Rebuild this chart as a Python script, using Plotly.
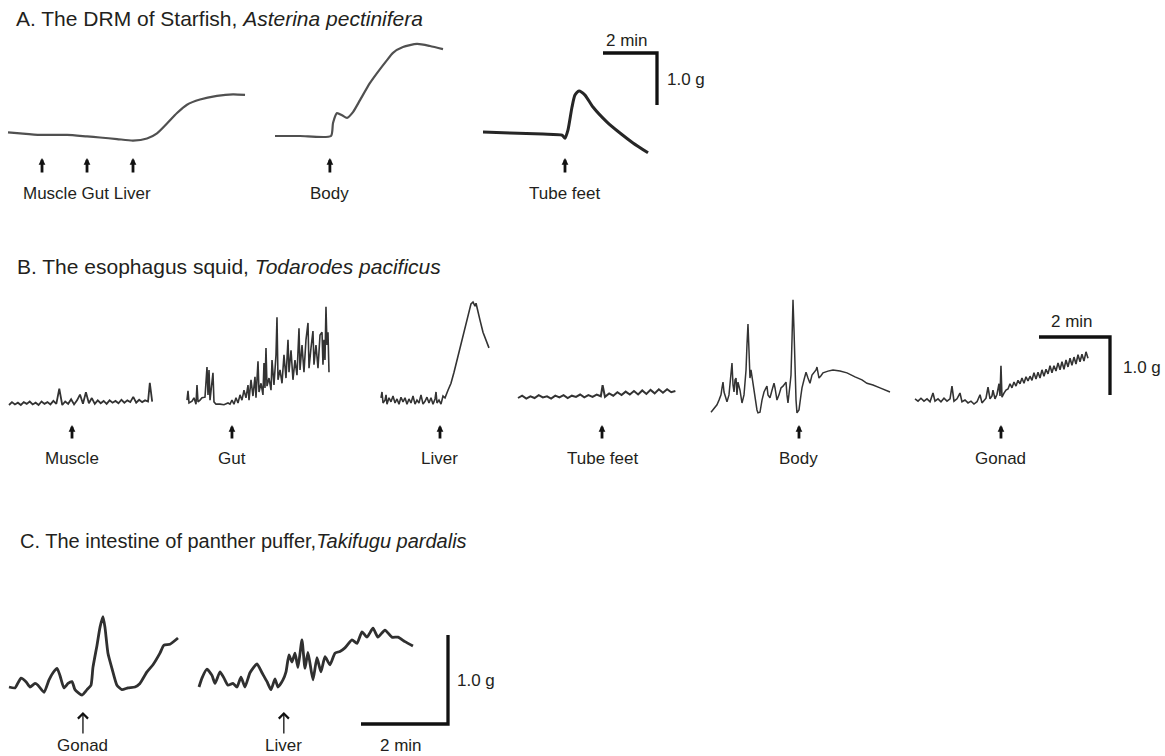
import plotly.graph_objects as go

W, H = 1165, 756
FONT = "Liberation Sans, Arial, Helvetica, sans-serif"
INK = "#231f20"

# ---------------- DATA: time (s) and tension (g, relative to resting level) ----------------
# Panel A - DRM of starfish
A_MGL_T = [0, 26.7, 71.1, 131.1, 175.6, 204.4, 242.2, 277.8, 308.9, 331.1, 353.3, 375.6, 397.8, 426.7, 464.4, 500.0, 526.7]
A_MGL_G = [0.00, -0.02, -0.05, -0.05, -0.08, -0.10, -0.13, -0.16, -0.12, -0.02, 0.17, 0.37, 0.53, 0.63, 0.70, 0.73, 0.72]
A_MGL_STIM = [75.6, 175.6, 277.8]
A_MGL_LABELS = [None, "Muscle Gut Liver", None]

A_BODY_T = [0, 55.6, 124.4, 128.9, 137.8, 148.9, 160.0, 173.3, 188.9, 211.1, 226.7, 248.9, 262.2, 284.4, 315.6, 344.4, 373.3]
A_BODY_G = [0.00, 0.00, 0.00, 0.25, 0.44, 0.40, 0.35, 0.46, 0.69, 1.02, 1.21, 1.46, 1.60, 1.71, 1.77, 1.73, 1.67]
A_BODY_STIM = [122.0]
A_BODY_LABELS = ["Body"]

A_TF_T = [0, 60.0, 133.3, 175.6, 182.2, 188.9, 197.8, 204.4, 213.3, 226.7, 244.4, 275.6, 304.4, 333.3, 366.7]
A_TF_G = [0.00, -0.02, -0.04, -0.06, -0.12, 0.04, 0.48, 0.71, 0.79, 0.71, 0.48, 0.19, -0.02, -0.21, -0.40]
A_TF_STIM = [182.2]
A_TF_LABELS = ["Tube feet"]

# Panel B - esophagus of squid
B_MUS_T = [0, 5, 10, 15, 20, 25, 30, 35, 40, 45, 50, 55, 60, 65, 70, 75, 80, 85, 90, 95,
           100, 105, 110, 115, 120, 125, 130, 135, 140, 145, 150, 155, 160, 165, 170, 175, 180, 185, 190, 195,
           200, 205, 210, 215, 220, 225, 230, 235, 238, 242]
B_MUS_G = [0.00, 0.05, 0.01, 0.04, 0.00, 0.05, 0.02, 0.06, 0.01, 0.04, 0.00, 0.06, 0.02, 0.05, 0.01, 0.07, 0.02, 0.28, 0.00, 0.06,
           0.02, 0.10, 0.01, 0.08, 0.18, 0.02, 0.22, 0.03, 0.12, 0.02, 0.08, 0.03, 0.07, 0.02, 0.08, 0.04, 0.07, 0.03, 0.09, 0.04,
           0.08, 0.05, 0.14, 0.04, 0.09, 0.05, 0.08, 0.06, 0.38, 0.06]
B_MUS_STIM = [106.5]
B_MUS_LABELS = ["Muscle"]

B_GUT_T = [0, 1.7, 3.4, 8.5, 11.8, 15.2, 16.9, 18.6, 22.0, 25.4, 30.4, 33.8, 35.5, 37.2, 38.9, 42.3, 43.9, 45.6, 49.0, 55.8,
           62.5, 69.3, 72.7, 76.0, 79.4, 82.8, 86.2, 89.6, 92.9, 96.3, 99.7, 103.1, 104.8, 108.2, 111.5, 114.9, 116.6, 120.0, 121.7, 125.1,
           128.4, 130.1, 131.8, 133.5, 135.2, 138.6, 142.0, 143.7, 147.0, 150.4, 152.1, 153.8, 157.2, 160.6, 163.9, 167.3, 170.7, 172.4, 175.8, 179.1,
           182.5, 185.9, 189.3, 191.0, 194.4, 197.7, 201.1, 204.5, 206.2, 209.6, 212.9, 214.6, 218.0, 221.4, 224.8, 228.2, 229.8, 231.5, 233.2, 234.9,
           236.6, 238.3, 240.0]
B_GUT_G = [0.05, 0.21, 0.00, 0.03, 0.09, -0.02, 0.31, 0.02, 0.05, 0.09, 0.10, 0.62, 0.14, 0.57, 0.05, 0.31, 0.52, 0.02, -0.02, -0.02,
           -0.03, 0.00, -0.02, 0.05, -0.02, 0.09, 0.00, 0.14, 0.05, 0.22, 0.09, 0.31, 0.05, 0.40, 0.12, 0.45, 0.09, 0.72, 0.19, 0.34,
           0.14, 0.69, 0.26, 0.95, 0.29, 0.43, 0.22, 0.74, 0.31, 0.83, 1.48, 0.40, 0.57, 0.34, 0.83, 0.43, 1.09, 0.53, 0.91, 0.40,
           0.74, 0.48, 1.29, 0.57, 1.00, 0.53, 1.09, 1.38, 0.60, 0.95, 1.24, 0.66, 1.00, 0.60, 1.17, 1.22, 0.66, 1.09, 0.74, 1.66,
           1.00, 1.22, 0.53]
B_GUT_STIM = [76.0]
B_GUT_LABELS = ["Gut"]

B_LIV_T = [0, 1.7, 3.4, 6.8, 8.5, 10.1, 13.5, 16.9, 20.3, 23.7, 27.0, 30.4, 33.8, 37.2, 40.6, 43.9, 47.3, 50.7, 54.1, 57.5,
           60.8, 64.2, 67.6, 71.0, 74.4, 77.7, 81.1, 84.5, 87.9, 91.3, 93.0, 94.6, 98.0, 101.4, 104.8, 108.2, 113.2, 118.3, 123.4, 128.4,
           133.5, 138.6, 143.7, 148.7, 152.1, 155.5, 158.9, 160.6, 163.9, 167.3, 172.4, 177.5, 182.5]
B_LIV_G = [0.09, 0.19, 0.00, 0.05, 0.14, -0.02, 0.09, 0.02, 0.12, 0.00, 0.07, -0.02, 0.10, 0.02, 0.09, -0.02, 0.07, 0.00, 0.12, -0.02,
           0.05, 0.00, 0.14, -0.02, 0.03, 0.10, 0.00, 0.09, -0.02, 0.07, 0.19, 0.00, 0.05, -0.02, 0.12, 0.09, 0.22, 0.34, 0.53, 0.74,
           0.98, 1.19, 1.40, 1.60, 1.71, 1.74, 1.67, 1.72, 1.60, 1.43, 1.22, 1.09, 0.95]
B_LIV_STIM = [99.7]
B_LIV_LABELS = ["Liver"]

B_TF_T = [0, 7, 14, 21, 28, 35, 42, 49, 56, 63, 70, 77, 84, 91, 98, 105, 112, 119, 126, 133,
          140, 143, 147, 154, 161, 168, 175, 182, 189, 196, 203, 210, 217, 224, 231, 238, 245, 252, 259, 266]
B_TF_G = [0.00, 0.04, -0.01, 0.03, 0.00, 0.05, 0.01, 0.03, -0.01, 0.04, 0.01, 0.05, 0.00, 0.04, 0.02, 0.06, 0.01, 0.05, 0.02, 0.06,
          0.03, 0.22, 0.02, 0.08, 0.04, 0.10, 0.05, 0.11, 0.06, 0.12, 0.06, 0.13, 0.07, 0.14, 0.08, 0.15, 0.09, 0.15, 0.10, 0.12]
B_TF_STIM = [142.0]
B_TF_LABELS = ["Tube feet"]

B_BODY_T = [0, 5.1, 10.1, 13.5, 16.9, 18.6, 20.3, 22.0, 25.4, 27.0, 30.4, 33.8, 35.5, 37.2, 38.9, 40.6, 42.3, 43.9, 45.6, 49.0,
            52.4, 55.8, 59.2, 60.8, 62.5, 64.2, 65.9, 67.6, 71.0, 74.4, 77.7, 79.4, 82.8, 86.2, 89.6, 93.0, 94.6, 96.3, 99.7, 103.1,
            106.5, 108.2, 111.5, 114.9, 118.3, 121.7, 125.1, 126.8, 128.4, 130.1, 133.5, 135.2, 136.9, 138.6, 140.3, 142.0, 143.7, 145.3, 148.7, 152.1,
            153.8, 157.2, 160.6, 163.9, 167.3, 170.7, 174.1, 177.5, 179.1, 180.8, 182.5, 185.9, 189.3, 197.7, 206.2, 218.0, 229.8, 243.4, 255.2, 263.6,
            273.8, 285.6, 294.1, 302.5]
B_BODY_G = [-0.16, -0.10, -0.03, 0.05, 0.14, 0.26, 0.36, 0.19, 0.05, 0.02, 0.14, 0.48, 0.69, 0.31, 0.19, 0.40, 0.43, 0.14, 0.36, 0.22,
            0.00, 0.14, 0.57, 1.00, 1.36, 0.91, 0.43, 0.57, 0.31, 0.14, -0.12, -0.17, -0.16, 0.05, 0.19, 0.26, 0.29, 0.14, 0.09, 0.22,
            0.34, 0.26, 0.05, 0.14, 0.26, 0.29, 0.33, 0.36, 0.14, 0.00, 0.31, 0.48, 1.09, 1.78, 1.26, 0.48, 0.05, -0.17, -0.12, 0.14,
            0.26, 0.40, 0.53, 0.43, 0.34, 0.48, 0.53, 0.57, 0.62, 0.53, 0.43, 0.47, 0.52, 0.55, 0.57, 0.55, 0.52, 0.45, 0.40, 0.34,
            0.31, 0.26, 0.22, 0.19]
B_BODY_STIM = [148.7]
B_BODY_LABELS = ["Body"]

B_GON_T = [0, 5.1, 10.1, 15.2, 20.3, 25.4, 30.4, 33.8, 38.9, 43.9, 49.0, 54.1, 59.2, 62.5, 65.9, 71.0, 76.0, 79.4, 84.5, 89.6,
           94.6, 99.7, 104.8, 109.9, 113.2, 116.6, 120.0, 123.4, 126.8, 130.1, 131.8, 135.2, 138.6, 142.0, 143.7, 145.3, 147.0, 150.4, 153.8, 157.2,
           160.6, 163.9, 167.3, 170.7, 174.1, 177.5, 180.8, 184.2, 187.6, 191.0, 194.4, 197.7, 201.1, 204.5, 207.9, 211.3, 214.6, 218.0, 221.4, 224.8,
           228.2, 231.5, 234.9, 238.3, 241.7, 245.1, 248.4, 251.8, 255.2, 258.6, 262.0, 265.3, 268.7, 272.1, 275.5, 278.9, 282.2, 285.6, 289.0, 292.4]
B_GON_G = [0.02, -0.02, 0.03, -0.02, 0.02, -0.03, 0.12, -0.02, 0.02, -0.03, 0.03, -0.02, 0.02, 0.24, -0.02, 0.02, 0.12, -0.03, 0.00, -0.05,
           -0.02, -0.07, -0.03, 0.09, -0.05, 0.00, 0.03, 0.22, 0.02, 0.07, 0.17, 0.02, 0.10, 0.28, 0.07, 0.59, 0.05, 0.12, 0.17, 0.19,
           0.28, 0.21, 0.31, 0.24, 0.34, 0.28, 0.38, 0.29, 0.40, 0.33, 0.41, 0.34, 0.47, 0.36, 0.48, 0.38, 0.52, 0.41, 0.53, 0.45,
           0.59, 0.47, 0.59, 0.50, 0.64, 0.52, 0.66, 0.53, 0.69, 0.57, 0.72, 0.60, 0.74, 0.62, 0.78, 0.66, 0.79, 0.67, 0.83, 0.72]
B_GON_STIM = [145.3]
B_GON_LABELS = ["Gonad"]

# Panel C - intestine of panther puffer
C_GON_T = [0, 8.3, 16.5, 23.4, 29.0, 35.9, 40.0, 48.3, 55.2, 60.7, 66.2, 70.3, 75.8, 81.4, 86.9, 91.0, 100.7, 107.6, 113.1, 115.8,
           121.4, 125.5, 129.6, 132.4, 136.5, 142.0, 148.9, 155.8, 164.1, 173.8, 180.6, 190.3, 198.6, 208.2, 213.7, 222.0, 233.1]
C_GON_G = [0.00, -0.01, 0.10, 0.06, 0.00, 0.04, 0.02, -0.06, 0.08, 0.16, 0.21, 0.13, -0.01, 0.04, 0.06, -0.03, -0.09, -0.03, 0.02, 0.22,
           0.47, 0.67, 0.79, 0.67, 0.38, 0.21, 0.02, -0.03, -0.01, 0.00, 0.04, 0.17, 0.25, 0.38, 0.47, 0.48, 0.55]
C_GON_STIM = [102.0]
C_GON_LABELS = ["Gonad"]

C_LIV_T = [0, 4.1, 11.0, 17.9, 22.1, 29.0, 34.5, 40.0, 46.9, 52.4, 57.9, 63.4, 70.3, 80.0, 86.9, 93.8, 99.3, 104.8, 108.9, 115.8,
           120.0, 124.1, 128.2, 132.4, 136.5, 142.0, 146.2, 150.3, 157.2, 162.7, 168.2, 173.8, 180.6, 187.5, 194.4, 201.3, 211.0, 217.9, 224.8, 231.7,
           240.0, 246.8, 256.5, 266.1, 274.4, 284.1, 295.1]
C_LIV_G = [0.00, 0.10, 0.20, 0.13, 0.04, 0.17, 0.10, 0.02, 0.04, 0.00, 0.11, 0.00, 0.16, 0.26, 0.16, 0.06, -0.03, 0.09, 0.00, 0.08,
           0.17, 0.36, 0.28, 0.38, 0.22, 0.53, 0.21, 0.39, 0.08, 0.33, 0.17, 0.34, 0.25, 0.38, 0.40, 0.44, 0.53, 0.49, 0.62, 0.56,
           0.66, 0.56, 0.64, 0.56, 0.56, 0.51, 0.46]
C_LIV_STIM = [117.0]
C_LIV_LABELS = ["Liver"]

# calibration bars
SCALE_BAR_S = 120      # 2 min
SCALE_BAR_G = 1.0      # 1.0 g
SCALE_TIME_LABEL = "2 min"
SCALE_FORCE_LABEL = "1.0 g"

TITLES = {
    "A": "A. The DRM of Starfish, <i>Asterina pectinifera</i>",
    "B": "B. The esophagus squid, <i>Todarodes pacificus</i>",
    "C": "C. The intestine of panther puffer,<i>Takifugu pardalis</i>",
}

# ---------------- LAYOUT (pixel placement & style) ----------------
PX_PER = {"A": (0.45, 52.0), "B": (71 / 120, 58.0), "C": (87 / 120, 89.0)}   # px per s, px per g
ARROW = {
    "A": dict(tip=158, tail=173, label_y=193, head=2, width=2.8, size=0.48),
    "B": dict(tip=425, tail=439, label_y=459, head=2, width=2.8, size=0.48),
    "C": dict(tip=712, tail=734, label_y=745, head=4, width=1.3, size=1.5),
}
TITLE_POS = {"A": (14, 18, 21), "B": (15, 266, 21), "C": (18, 541, 20)}

fig = go.Figure()
axes = {}
annotations = []
count = [0]


def new_axes(panel, px_x0, px_y0, t_vals, g_vals, pad=6):
    pxps, pxpg = PX_PER[panel]
    count[0] += 1
    n = count[0]
    lo = max(0.0, px_x0 + min(t_vals) * pxps - pad)
    hi = min(W, px_x0 + max(t_vals) * pxps + pad)
    top = max(0.0, px_y0 - max(g_vals) * pxpg - pad)
    bot = min(H, px_y0 - min(g_vals) * pxpg + pad)
    sfx = "" if n == 1 else str(n)
    axes["xaxis" + sfx] = dict(domain=[lo / W, hi / W], range=[(lo - px_x0) / pxps, (hi - px_x0) / pxps],
                               visible=False, fixedrange=True, anchor="y" + sfx)
    axes["yaxis" + sfx] = dict(domain=[1 - bot / H, 1 - top / H], range=[(px_y0 - bot) / pxpg, (px_y0 - top) / pxpg],
                               visible=False, fixedrange=True, anchor="x" + sfx)
    return "x" + sfx, "y" + sfx


def add_recording(panel, t, g, px_x0, px_y0, stims, labels, color, width, smooth=None):
    xr, yr = new_axes(panel, px_x0, px_y0, t, g)
    line = dict(color=color, width=width)
    if smooth:
        line.update(shape="spline", smoothing=smooth)
    fig.add_trace(go.Scatter(x=t, y=g, mode="lines", line=line, xaxis=xr, yaxis=yr,
                             hoverinfo="skip", showlegend=False))
    st = ARROW[panel]
    for s, lab in zip(stims, labels):
        annotations.append(dict(x=s, xref=xr, y=1 - st["tip"] / H, yref="paper", ax=0, ay=st["tail"] - st["tip"],
                                axref="pixel", ayref="pixel", text="", font=dict(size=1), borderpad=0,
                                showarrow=True, arrowhead=st["head"],
                                arrowsize=st["size"], arrowwidth=st["width"], arrowcolor="#111111", standoff=0))
        if lab:
            annotations.append(dict(x=s, xref=xr, y=1 - st["label_y"] / H, yref="paper", text=lab, showarrow=False,
                                    xanchor="center", yanchor="middle", font=dict(size=17, color=INK, family=FONT)))


def add_scalebar(panel, px_x0, px_y0, bottom_bar=False):
    if bottom_bar:
        t = [SCALE_BAR_S, SCALE_BAR_S, 0]
        g = [SCALE_BAR_G, 0, 0]
    else:
        t = [0, SCALE_BAR_S, SCALE_BAR_S]
        g = [SCALE_BAR_G, SCALE_BAR_G, 0]
    xr, yr = new_axes(panel, px_x0, px_y0, t, g)
    fig.add_trace(go.Scatter(x=t, y=g, mode="lines", line=dict(color="#111111", width=3.3),
                             xaxis=xr, yaxis=yr, hoverinfo="skip", showlegend=False))


def text_px(txt, x, y, size=17, anchor="left"):
    annotations.append(dict(x=x / W, y=1 - y / H, xref="paper", yref="paper", text=txt, showarrow=False,
                            xanchor=anchor, yanchor="middle", font=dict(size=size, color=INK, family=FONT)))


# Panel A
add_recording("A", A_MGL_T, A_MGL_G, 8, 132.3, A_MGL_STIM, A_MGL_LABELS, "#505050", 2.2, 0.6)
add_recording("A", A_BODY_T, A_BODY_G, 275, 136, A_BODY_STIM, A_BODY_LABELS, "#505050", 2.2, 0.6)
add_recording("A", A_TF_T, A_TF_G, 483, 132, A_TF_STIM, A_TF_LABELS, "#262626", 3.0, 0.6)
add_scalebar("A", 603, 105)
text_px(SCALE_TIME_LABEL, 627, 41, anchor="center")
text_px(SCALE_FORCE_LABEL, 665, 79)

# Panel B
add_recording("B", B_MUS_T, B_MUS_G, 9, 405, B_MUS_STIM, B_MUS_LABELS, "#333333", 1.8)
add_recording("B", B_GUT_T, B_GUT_G, 187, 403, B_GUT_STIM, B_GUT_LABELS, "#333333", 1.6)
add_recording("B", B_LIV_T, B_LIV_G, 381, 403, B_LIV_STIM, B_LIV_LABELS, "#333333", 1.6)
add_recording("B", B_TF_T, B_TF_G, 518, 398, B_TF_STIM, B_TF_LABELS, "#333333", 2.0)
add_recording("B", B_BODY_T, B_BODY_G, 711, 403, B_BODY_STIM, B_BODY_LABELS, "#333333", 1.5)
add_recording("B", B_GON_T, B_GON_G, 915, 400, B_GON_STIM, B_GON_LABELS, "#333333", 1.6)
add_scalebar("B", 1039, 395)
text_px(SCALE_TIME_LABEL, 1072, 321, anchor="center")
text_px(SCALE_FORCE_LABEL, 1121, 367)

# Panel C
add_recording("C", C_GON_T, C_GON_G, 9, 687, C_GON_STIM, C_GON_LABELS, "#303030", 2.8, 0.5)
add_recording("C", C_LIV_T, C_LIV_G, 199, 687, C_LIV_STIM, C_LIV_LABELS, "#303030", 2.8, 0.5)
add_scalebar("C", 361, 724, bottom_bar=True)
text_px(SCALE_FORCE_LABEL, 455, 680)
text_px(SCALE_TIME_LABEL, 401, 745, anchor="center")

for key, (x, y, size) in TITLE_POS.items():
    text_px(TITLES[key], x, y, size=size)

fig.update_layout(
    width=W, height=H, autosize=False,
    margin=dict(l=0, r=0, t=0, b=0, pad=0),
    paper_bgcolor="white", plot_bgcolor="rgba(0,0,0,0)",
    showlegend=False, annotations=annotations,
    font=dict(family=FONT, color=INK),
    **axes,
)

fig.write_html("out.html", config={"displayModeBar": False},
               post_script="document.body.style.margin='0';document.body.style.overflow='hidden';")
